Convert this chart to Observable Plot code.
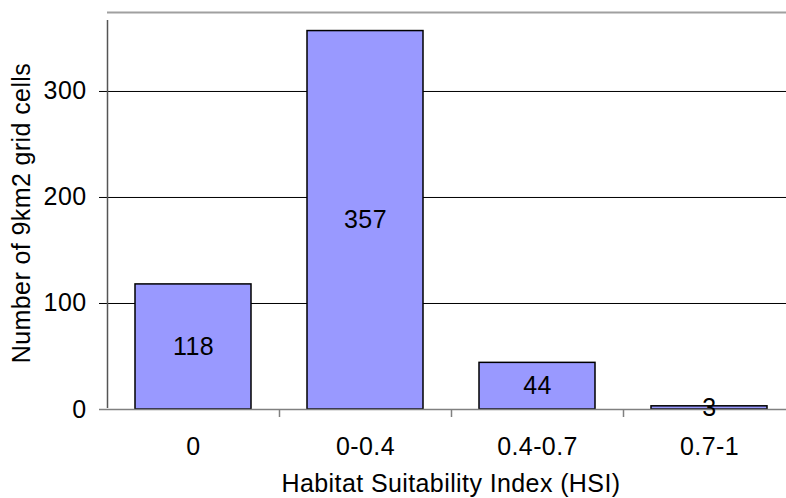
<!DOCTYPE html>
<html>
<head>
<meta charset="utf-8">
<script src="https://cdn.jsdelivr.net/npm/d3@7"></script>
<script src="https://cdn.jsdelivr.net/npm/@observablehq/plot@0.6"></script>
<style>
  html, body { margin: 0; padding: 0; background: white; overflow: hidden; }
</style>
</head>
<body>
<div id="chart"></div>
<script>
const categories = ["0", "0-0.4", "0.4-0.7", "0.7-1"];
const counts = [118, 357, 44, 3];
const yTicks = [0, 100, 200, 300];
const yMax = 374.5;
const xTitle = "Habitat Suitability Index (HSI)";
const yTitle = "Number of 9km2 grid cells";

const data = categories.map((c, i) => ({hsi: c, n: counts[i]}));
const half = (795 - 107) / categories.length / 2;

const chart = Plot.plot({
  width: 786,
  height: 498,
  marginLeft: 107,
  marginRight: 0,
  marginTop: 12,
  marginBottom: 89,
  style: {fontFamily: "Arial, 'Liberation Sans', sans-serif", fontSize: "25px", letterSpacing: "0.4px", color: "black", background: "white", overflow: "visible"},
  x: {domain: categories, range: [107, 795], padding: 0, axis: null},
  y: {domain: [0, yMax], axis: null},
  marks: [
    // gridlines + y ticks
    Plot.ruleY(yTicks.slice(1), {stroke: "black", strokeWidth: 1, insetLeft: -8}),
    // top border
    Plot.ruleY([yMax], {stroke: "#a0a0a0", strokeWidth: 2}),
    // bars
    Plot.barY(data, {x: "hsi", y: "n", fill: "#9999ff", stroke: "black", strokeWidth: 1.5, insetLeft: 28, insetRight: 28}),
    // x baseline
    Plot.ruleY([0], {stroke: "#808080", strokeWidth: 1.5, insetLeft: -8}),
    // category boundary ticks
    Plot.ruleX(categories.slice(1), {y1: 0, y2: 0, insetBottom: -8, dx: -half, stroke: "#808080", strokeWidth: 1.5}),
    // left axis line
    Plot.ruleX([categories[0]], {y1: 0, y2: yMax, insetBottom: -8, insetTop: -1, dx: -half, stroke: "#555", strokeWidth: 1.5}),
    // y tick labels
    Plot.text(yTicks, {y: d => d, frameAnchor: "left", dx: -21, textAnchor: "end", text: d => String(d), fill: "black"}),
    // x tick labels
    Plot.text(categories, {x: d => d, y: 0, dy: 37, text: d => d, fill: "black"}),
    // value labels
    Plot.text(data, {x: "hsi", y: d => d.n / 2, text: d => String(d.n), fill: "black"}),
    // axis titles
    Plot.text([xTitle], {frameAnchor: "bottom", textAnchor: "middle", dx: 4, dy: 82, text: d => d, fill: "black"}),
    Plot.text([yTitle], {frameAnchor: "left", textAnchor: "middle", dx: -86, dy: 2, rotate: -90, text: d => d, fill: "black"})
  ]
});
document.getElementById("chart").appendChild(chart);
</script>
</body>
</html>
